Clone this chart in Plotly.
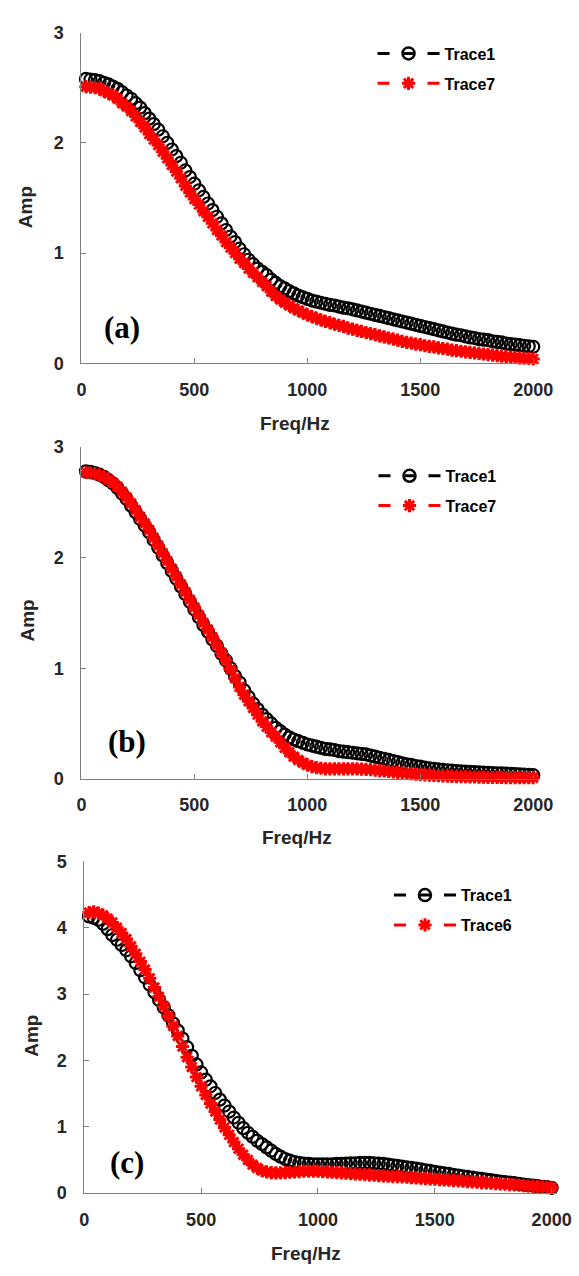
import plotly.graph_objects as go

W, H = 579, 1276

freq = [20, 40, 60, 80, 100, 120, 140, 160, 180, 200,
        220, 240, 260, 280, 300, 320, 340, 360, 380, 400,
        420, 440, 460, 480, 500, 520, 540, 560, 580, 600,
        620, 640, 660, 680, 700, 720, 740, 760, 780, 800,
        820, 840, 860, 880, 900, 920, 940, 960, 980, 1000,
        1020, 1040, 1060, 1080, 1100, 1120, 1140, 1160, 1180, 1200,
        1220, 1240, 1260, 1280, 1300, 1320, 1340, 1360, 1380, 1400,
        1420, 1440, 1460, 1480, 1500, 1520, 1540, 1560, 1580, 1600,
        1620, 1640, 1660, 1680, 1700, 1720, 1740, 1760, 1780, 1800,
        1820, 1840, 1860, 1880, 1900, 1920, 1940, 1960, 1980, 2000]

a_trace1 = [2.58, 2.575, 2.57, 2.56, 2.545, 2.53, 2.51, 2.49, 2.46, 2.43,
            2.40, 2.36, 2.32, 2.27, 2.22, 2.17, 2.12, 2.06, 2.00, 1.94,
            1.88, 1.82, 1.75, 1.69, 1.63, 1.57, 1.51, 1.45, 1.39, 1.33,
            1.27, 1.21, 1.15, 1.10, 1.04, 0.99, 0.94, 0.90, 0.86, 0.83,
            0.80, 0.76, 0.73, 0.70, 0.68, 0.655, 0.635, 0.615, 0.60, 0.585,
            0.57, 0.56, 0.55, 0.54, 0.53, 0.525, 0.515, 0.505, 0.50, 0.49,
            0.48, 0.47, 0.46, 0.45, 0.44, 0.43, 0.42, 0.41, 0.40, 0.39,
            0.38, 0.37, 0.36, 0.35, 0.34, 0.33, 0.32, 0.31, 0.30, 0.29,
            0.28, 0.27, 0.26, 0.255, 0.245, 0.235, 0.23, 0.22, 0.215, 0.21,
            0.20, 0.195, 0.19, 0.18, 0.175, 0.17, 0.165, 0.16, 0.155, 0.15]

a_trace7 = [2.51, 2.505, 2.50, 2.49, 2.47, 2.45, 2.43, 2.40, 2.36, 2.33,
            2.29, 2.24, 2.19, 2.14, 2.08, 2.03, 1.98, 1.92, 1.86, 1.80,
            1.74, 1.68, 1.61, 1.55, 1.49, 1.44, 1.38, 1.33, 1.27, 1.21,
            1.16, 1.10, 1.05, 1.00, 0.95, 0.91, 0.86, 0.82, 0.78, 0.74,
            0.70, 0.65, 0.61, 0.58, 0.55, 0.525, 0.50, 0.48, 0.46, 0.44,
            0.425, 0.41, 0.395, 0.38, 0.37, 0.355, 0.345, 0.335, 0.32, 0.31,
            0.30, 0.29, 0.28, 0.27, 0.26, 0.25, 0.24, 0.23, 0.22, 0.21,
            0.20, 0.19, 0.185, 0.175, 0.17, 0.16, 0.155, 0.15, 0.14, 0.135,
            0.13, 0.12, 0.115, 0.11, 0.105, 0.10, 0.095, 0.09, 0.085, 0.08,
            0.075, 0.07, 0.065, 0.06, 0.057, 0.054, 0.05, 0.047, 0.044, 0.04]

b_trace1 = [2.78, 2.775, 2.765, 2.75, 2.73, 2.70, 2.67, 2.63, 2.58, 2.53,
            2.47, 2.41, 2.35, 2.29, 2.23, 2.16, 2.09, 2.02, 1.95, 1.88,
            1.81, 1.74, 1.67, 1.60, 1.53, 1.46, 1.39, 1.33, 1.26, 1.20,
            1.13, 1.07, 1.00, 0.93, 0.87, 0.80, 0.74, 0.68, 0.63, 0.58,
            0.54, 0.50, 0.46, 0.43, 0.40, 0.375, 0.355, 0.34, 0.325, 0.31,
            0.30, 0.29, 0.28, 0.27, 0.265, 0.26, 0.25, 0.245, 0.24, 0.235,
            0.23, 0.225, 0.22, 0.21, 0.20, 0.19, 0.18, 0.17, 0.16, 0.15,
            0.14, 0.13, 0.125, 0.115, 0.11, 0.10, 0.095, 0.09, 0.085, 0.08,
            0.077, 0.074, 0.07, 0.067, 0.064, 0.062, 0.06, 0.058, 0.056, 0.054,
            0.052, 0.05, 0.048, 0.046, 0.044, 0.042, 0.04, 0.038, 0.035, 0.032]

b_trace7 = [2.77, 2.765, 2.76, 2.745, 2.73, 2.705, 2.675, 2.64, 2.595, 2.545,
            2.49, 2.43, 2.37, 2.31, 2.25, 2.18, 2.11, 2.04, 1.97, 1.90,
            1.83, 1.76, 1.69, 1.62, 1.55, 1.48, 1.41, 1.35, 1.28, 1.21,
            1.14, 1.07, 0.99, 0.91, 0.83, 0.76, 0.70, 0.64, 0.58, 0.52,
            0.47, 0.42, 0.38, 0.33, 0.28, 0.24, 0.20, 0.17, 0.145, 0.125,
            0.11, 0.10, 0.095, 0.09, 0.09, 0.09, 0.09, 0.09, 0.09, 0.09,
            0.09, 0.088, 0.085, 0.082, 0.078, 0.074, 0.07, 0.066, 0.062, 0.058,
            0.054, 0.05, 0.046, 0.042, 0.039, 0.036, 0.033, 0.03, 0.028, 0.026,
            0.024, 0.022, 0.02, 0.019, 0.018, 0.017, 0.016, 0.015, 0.014, 0.013,
            0.013, 0.012, 0.012, 0.011, 0.011, 0.01, 0.01, 0.01, 0.01, 0.01]

c_trace1 = [4.17, 4.15, 4.12, 4.06, 3.98, 3.89, 3.82, 3.74, 3.66, 3.57,
            3.47, 3.36, 3.25, 3.14, 3.03, 2.91, 2.80, 2.68, 2.56, 2.45,
            2.33, 2.20, 2.07, 1.94, 1.82, 1.71, 1.61, 1.51, 1.41, 1.32,
            1.23, 1.14, 1.06, 0.98, 0.91, 0.85, 0.79, 0.74, 0.69, 0.64,
            0.59, 0.55, 0.515, 0.49, 0.47, 0.455, 0.445, 0.44, 0.435, 0.435,
            0.435, 0.435, 0.435, 0.44, 0.44, 0.445, 0.45, 0.45, 0.455, 0.455,
            0.455, 0.45, 0.445, 0.44, 0.43, 0.42, 0.41, 0.40, 0.39, 0.38,
            0.37, 0.36, 0.345, 0.335, 0.32, 0.31, 0.30, 0.29, 0.275, 0.265,
            0.255, 0.245, 0.235, 0.225, 0.215, 0.205, 0.195, 0.185, 0.175, 0.165,
            0.16, 0.15, 0.14, 0.13, 0.12, 0.115, 0.105, 0.095, 0.09, 0.08]

c_trace6 = [4.23, 4.24, 4.22, 4.19, 4.14, 4.08, 4.00, 3.92, 3.83, 3.72,
            3.61, 3.49, 3.37, 3.24, 3.10, 2.96, 2.82, 2.67, 2.52, 2.37,
            2.21, 2.05, 1.90, 1.75, 1.61, 1.48, 1.35, 1.23, 1.11, 0.99,
            0.88, 0.77, 0.67, 0.58, 0.50, 0.43, 0.38, 0.34, 0.32, 0.31,
            0.305, 0.305, 0.31, 0.315, 0.32, 0.325, 0.33, 0.33, 0.33, 0.33,
            0.325, 0.32, 0.315, 0.31, 0.305, 0.30, 0.295, 0.29, 0.285, 0.28,
            0.275, 0.27, 0.265, 0.26, 0.255, 0.25, 0.25, 0.245, 0.24, 0.235,
            0.23, 0.225, 0.22, 0.215, 0.21, 0.205, 0.20, 0.195, 0.19, 0.185,
            0.18, 0.175, 0.17, 0.165, 0.16, 0.155, 0.15, 0.145, 0.14, 0.135,
            0.13, 0.125, 0.12, 0.115, 0.11, 0.105, 0.10, 0.095, 0.09, 0.085]

panels = [
    dict(tag="(a)", s1=a_trace1, s2=a_trace7, n2="Trace7", ymax=3),
    dict(tag="(b)", s1=b_trace1, s2=b_trace7, n2="Trace7", ymax=3),
    dict(tag="(c)", s1=c_trace1, s2=c_trace6, n2="Trace6", ymax=5),
]

# pixel geometry of each panel: x0, x1 (plot area), y_top, y_bottom
geom = [
    dict(x0=79, x1=552, xmax=2025, yt=23, yb=359, leg=(380, 27)),
    dict(x0=79, x1=552, xmax=2025, yt=444, yb=781, leg=(381, 456)),
    dict(x0=82, x1=570.5, xmax=2022, yt=865, yb=1202, leg=(397, 882)),
]
label_pos = [(121, 323), (126, 743), (126, 1171)]
amp_pos = [(22, 200), (23, 620), (28, 1042)]
freq_pos = [(300, 420), (302, 841), (311, 1263)]

AXC = "#7f7f7f"
TXT = "#262626"
SANS = "Liberation Sans, Arial, sans-serif"
SERIF = "Liberation Serif, Times New Roman, serif"

fig = go.Figure()
layout = dict(width=W, height=H, margin=dict(l=0, r=0, t=0, b=0),
              paper_bgcolor="white", plot_bgcolor="white", showlegend=True,
              annotations=[])

legend_dash = "12px,14px,10px,14px,12px,60px"

for i, (p, g) in enumerate(zip(panels, geom)):
    k = "" if i == 0 else str(i + 1)
    xa, ya = "x" + k, "y" + k
    lg = "legend" + k
    fig.add_trace(go.Scatter(x=freq, y=p["s1"], mode="markers", xaxis=xa, yaxis=ya,
                             marker=dict(symbol="circle-open", size=12, color="black",
                                         line=dict(width=2.2, color="black")),
                             showlegend=False, cliponaxis=False))
    fig.add_trace(go.Scatter(x=freq, y=p["s2"], mode="markers", xaxis=xa, yaxis=ya,
                             marker=dict(symbol="asterisk-open", size=11, color="red",
                                         line=dict(width=3, color="red")),
                             showlegend=False, cliponaxis=False))
    # legend entries
    fig.add_trace(go.Scatter(x=[None], y=[None], mode="lines+markers", xaxis=xa, yaxis=ya,
                             name="Trace1", legend=lg, legendgroup="g1" + k,
                             line=dict(color="black", width=3, dash=legend_dash),
                             marker=dict(symbol="circle-open", size=12, color="black",
                                         line=dict(width=2.5, color="black"))))
    fig.add_trace(go.Scatter(x=[None], y=[None], mode="lines+markers", xaxis=xa, yaxis=ya,
                             name=p["n2"], legend=lg, legendgroup="g2" + k,
                             line=dict(color="red", width=3, dash=legend_dash),
                             marker=dict(symbol="asterisk-open", size=11, color="red",
                                         line=dict(width=3, color="red"))))

    xdom = [g["x0"] / W, g["x1"] / W]
    ydom = [1 - g["yb"] / H, 1 - g["yt"] / H]
    layout["xaxis" + k] = dict(domain=xdom, range=[0, g["xmax"]], anchor=ya,
                               tickvals=[0, 500, 1000, 1500, 2000],
                               showline=True, linecolor=AXC, linewidth=1,
                               ticks="inside", ticklen=5, tickcolor=AXC,
                               ticklabelstandoff=10, showgrid=False, zeroline=False,
                               tickfont=dict(family=SANS, size=18, color=TXT, weight="bold"))
    layout["yaxis" + k] = dict(domain=ydom, range=[0, p["ymax"]], anchor=xa,
                               dtick=1, showline=True, linecolor=AXC, linewidth=1,
                               ticks="inside", ticklen=5, tickcolor=AXC,
                               ticklabelstandoff=13, showgrid=False, zeroline=False,
                               tickfont=dict(family=SANS, size=18, color=TXT, weight="bold"))
    lx, ly = g["leg"]
    layout[lg] = dict(x=lx / W, y=1 - ly / H, xanchor="left", yanchor="top",
                      bgcolor="rgba(0,0,0,0)", borderwidth=0, itemwidth=62,
                      tracegroupgap=6, itemclick=False, itemdoubleclick=False,
                      font=dict(family=SANS, size=16, color="black", weight="bold"))
    tx, ty = label_pos[i]
    layout["annotations"].append(dict(text=p["tag"], x=tx / W, y=1 - ty / H, xref="paper",
                                      yref="paper", showarrow=False, xanchor="center",
                                      yanchor="middle",
                                      font=dict(family=SERIF, size=31, color="black",
                                                weight="bold")))
    ax_, ay_ = amp_pos[i]
    layout["annotations"].append(dict(text="Amp", x=ax_ / W, y=1 - ay_ / H, xref="paper",
                                      yref="paper", showarrow=False, textangle=-90,
                                      xanchor="center", yanchor="middle",
                                      font=dict(family=SANS, size=19, color=TXT,
                                                weight="bold")))
    fx, fy = freq_pos[i]
    layout["annotations"].append(dict(text="Freq/Hz", x=fx / W, y=1 - fy / H, xref="paper",
                                      yref="paper", showarrow=False, xanchor="center",
                                      yanchor="middle",
                                      font=dict(family=SANS, size=19, color=TXT,
                                                weight="bold")))

fig.update_layout(**layout)
fig.write_html("out.html")
